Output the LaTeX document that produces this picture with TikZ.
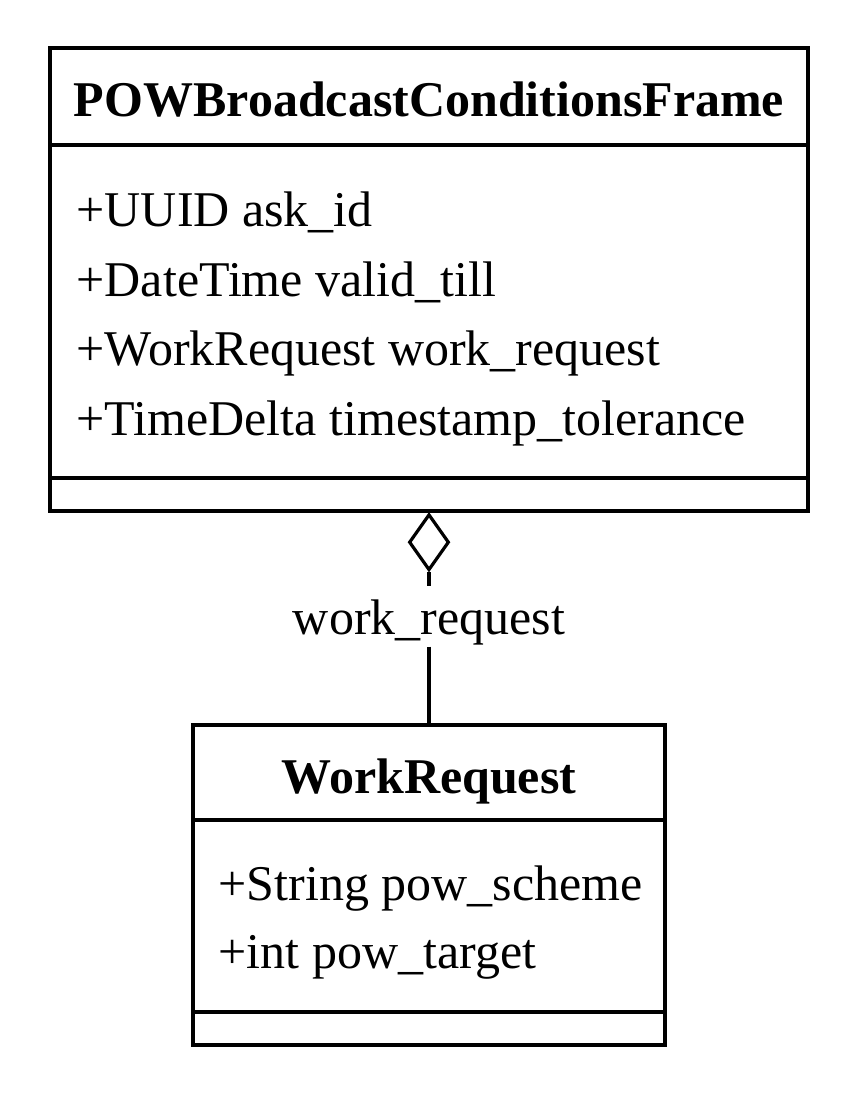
\documentclass[tikz,border=0pt]{standalone}
\usepackage{fontspec}
\setmainfont{Liberation Serif}
\usetikzlibrary{shapes.geometric}

\begin{document}
\begin{tikzpicture}[x=1pt, y=-1pt, line width=3.2pt,
        classbox/.style={draw, rectangle, inner sep=0pt},
        member/.style={anchor=base west, inner sep=0pt, font=\fontsize{50}{60}\selectfont},
        classname/.style={anchor=base, inner sep=0pt, font=\fontsize{50}{60}\selectfont\bfseries}]
        \useasboundingbox (0,0) rectangle (858,1096);

        \node (frame) [classbox, minimum width=758, minimum height=463] at (429,279.5) {};
        \node (frameName) [classname] at (429,116) {POWBroadcastConditionsFrame};
        \node (askId) [member] at (75,226) {+UUID ask\_id};
        \node (validTill) [member] at (75,296) {+DateTime valid\_till};
        \node (workReq) [member] at (75,365) {+WorkRequest work\_request};
        \node (tolerance) [member] at (75,435) {+TimeDelta timestamp\_tolerance};
        \draw (frame.west |- 0,145) -- (frame.east |- 0,145);
        \draw (frame.west |- 0,478) -- (frame.east |- 0,478);

        \node (wreq) [classbox, minimum width=472, minimum height=320] at (429,885) {};
        \node (wreqName) [classname] at (429,793) {WorkRequest};
        \node (powScheme) [member] at (217,900) {+String pow\_scheme};
        \node (powTarget) [member] at (217,968) {+int pow\_target};
        \draw (wreq.west |- 0,820) -- (wreq.east |- 0,820);
        \draw (wreq.west |- 0,1012) -- (wreq.east |- 0,1012);

        % aggregation
        \node (agg) [draw, diamond, inner sep=0pt, minimum width=40, minimum height=56,
            anchor=north] at (frame.south) {};
        \node (role) [anchor=base, inner sep=0pt, text height=46, text depth=11,
            font=\fontsize{50}{60}\selectfont] at (429,634) {work\_request};
        \path (agg.south) edge (role.north);
        \path (role.south) edge (wreq.north);
    \end{tikzpicture}
\end{document}
